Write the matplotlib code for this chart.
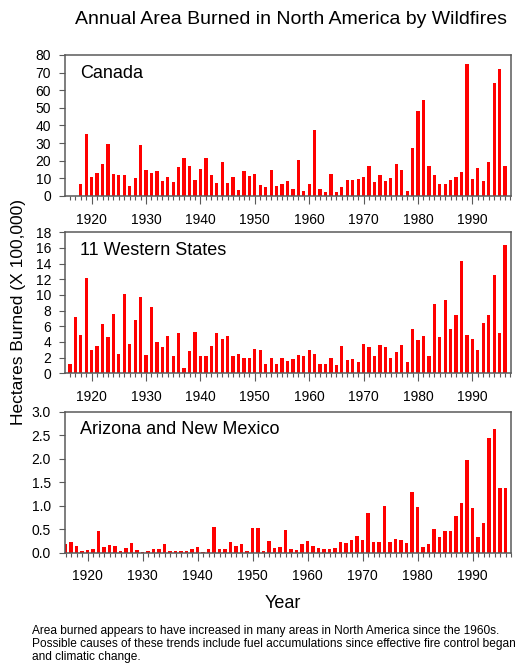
import numpy as np
import matplotlib.pyplot as plt
from matplotlib.ticker import MultipleLocator

plt.rcParams['font.family'] = ['Liberation Sans', 'DejaVu Sans']

# hectares burned (x 100,000), one value per year
canada_years = np.arange(1918, 1997)
canada = [7, 35, 11, 13, 18, 29.5, 12.5, 12, 12, 5.5, 10, 29, 15, 13, 14.3, 8.7, 10.6,
          7.9, 16.6, 21.7, 17, 9, 15.3, 21.5, 12, 7.5, 19, 7.5, 10.8, 3.2, 14.2, 11.1,
          12.3, 6.4, 4.9, 14.7, 5.8, 6.8, 8.7, 3.8, 20.2, 3, 6.6, 37.7, 3.8, 2.1, 12.3,
          2.3, 4.9, 9.1, 9.1, 9.6, 10.8, 17, 7.9, 11.9, 8.7, 10.4, 18.3, 14.9, 3, 27.2,
          48.3, 54.2, 17, 12.1, 6.8, 6.8, 9.2, 10.9, 13.4, 75.1, 9.4, 15.8, 8.5, 19.2,
          64, 72.3, 17]

western_years = np.arange(1916, 1997)
western = [1.15, 7.2, 4.9, 12.2, 3, 3.5, 6.3, 4.6, 7.6, 2.5, 10.1, 3.7, 6.8, 9.7, 2.3,
           8.4, 4, 3.3, 4.8, 2.2, 5.2, 0.64, 2.8, 5.3, 2.2, 2.2, 3.5, 5.1, 4.4, 4.7,
           2.25, 2.5, 1.9, 2, 3.1, 3, 1.15, 1.9, 1.2, 2, 1.6, 1.8, 2.3, 2.2, 3, 2.5,
           1.2, 1.2, 2, 1, 3.5, 1.7, 1.8, 1.4, 3.7, 3.4, 2.2, 3.6, 3.4, 2, 2.7, 3.6,
           1.45, 5.6, 4.3, 4.7, 2.2, 8.9, 4.6, 9.4, 5.6, 7.4, 14.3, 4.9, 4.4, 3, 6.4,
           7.4, 12.6, 5.2, 16.4]

az_nm_years = np.arange(1916, 1997)
az_nm = [0.18, 0.22, 0.15, 0.04, 0.06, 0.08, 0.46, 0.12, 0.16, 0.14, 0.03, 0.11, 0.2,
         0.05, 0.015, 0.03, 0.07, 0.07, 0.18, 0.03, 0.04, 0.03, 0.04, 0.07, 0.12, 0.02,
         0.08, 0.54, 0.08, 0.07, 0.22, 0.14, 0.19, 0.04, 0.52, 0.52, 0.04, 0.25, 0.09,
         0.12, 0.48, 0.07, 0.05, 0.19, 0.24, 0.15, 0.11, 0.08, 0.08, 0.11, 0.23, 0.2,
         0.26, 0.36, 0.27, 0.84, 0.22, 0.22, 1.0, 0.22, 0.29, 0.27, 0.21, 1.3, 0.98,
         0.13, 0.18, 0.51, 0.33, 0.47, 0.46, 0.79, 1.05, 1.97, 0.95, 0.33, 0.63, 2.43,
         2.63, 1.37, 1.37]

panels = [
    ('Canada', canada_years, canada, (0, 80), 10, (1915.1, 1997.1)),
    ('11 Western States', western_years, western, (0, 18), 2, (1915.1, 1997.1)),
    ('Arizona and New Mexico', az_nm_years, az_nm, (0, 3.0), 0.5, (1915.9, 1997.0)),
]

fig = plt.figure(figsize=(5.31, 6.63), dpi=100)
bottoms = [0.7044, 0.437, 0.1664]
spine_col = '#5a5a5a'

for (name, years, vals, ylim, ystep, xlim), b in zip(panels, bottoms):
    ax = fig.add_axes([0.1224, b, 0.840, 0.2127])
    ax.bar(years, vals, width=0.6, color='#ff0000', linewidth=0)
    ax.set_xlim(*xlim)
    ax.set_ylim(*ylim)
    ax.xaxis.set_major_locator(MultipleLocator(10))
    ax.xaxis.set_minor_locator(MultipleLocator(1))
    ax.yaxis.set_major_locator(MultipleLocator(ystep))
    if ystep < 1:
        ax.yaxis.set_major_formatter('{x:.1f}')
    ax.tick_params(axis='x', which='major', length=5.5, width=0.8, pad=6.5,
                   labelsize=10, color=spine_col)
    ax.tick_params(axis='x', which='minor', length=3, width=0.8, color=spine_col)
    ax.tick_params(axis='y', length=4.5, width=0.8, pad=5.5, labelsize=10,
                   color=spine_col)
    for s in ax.spines.values():
        s.set_color(spine_col)
        s.set_linewidth(1.1)
    ax.text(0.034, 0.87, name, transform=ax.transAxes, fontsize=13,
            ha='left', va='center')

fig.text(0.548, 1 - 20 / 663, 'Annual Area Burned in North America by Wildfires',
         ha='center', va='center', fontsize=14)
fig.text(0.034, 1 - 312 / 663, 'Hectares Burned (X 100,000)', rotation=90,
         ha='center', va='center', fontsize=12.5)
fig.text(0.533, 1 - 603 / 663, 'Year', ha='center', va='center', fontsize=13)
fig.text(0.06, 1 - 625 / 663,
         'Area burned appears to have increased in many areas in North America since the 1960s.\n'
         'Possible causes of these trends include fuel accumulations since effective fire control began\n'
         'and climatic change.',
         ha='left', va='top', fontsize=8.6, linespacing=1.12)

plt.savefig('out.png', dpi=100)
plt.close()
